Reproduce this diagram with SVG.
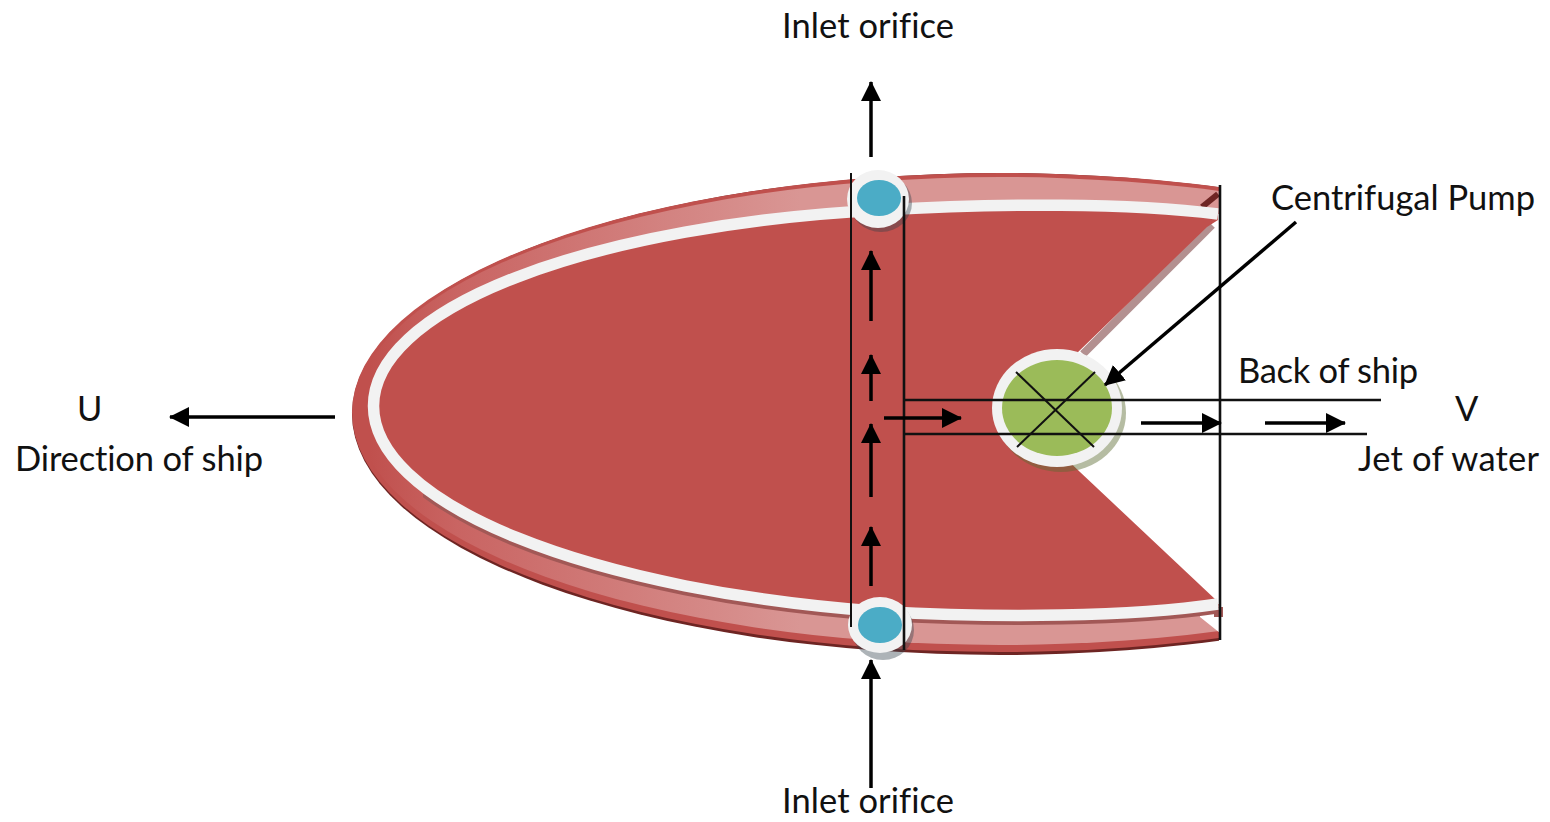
<svg xmlns="http://www.w3.org/2000/svg" width="1550" height="822" viewBox="0 0 1550 822">
<style>
text{font-family:Lato,"Liberation Sans",sans-serif;font-size:34.500px;fill:#111;font-variant-ligatures:none}
.thin{fill:none;stroke:#111;stroke-width:2}
.rule{fill:none;stroke:#111;stroke-width:2.600}
.arr{fill:none;stroke:#000;stroke-width:3.500;marker-end:url(#head)}
.halo{fill:#f2f2f2}
.shade{fill:#33404a;opacity:.4}
.hub{fill:#4bacc6}
</style>
<defs>
<marker id="head" markerUnits="userSpaceOnUse" markerWidth="20" markerHeight="20" viewBox="0 0 20 20" refX="19" refY="10" orient="auto"><path d="M0 0L20 10L0 20Z" fill="#000"/></marker>
<linearGradient id="band" gradientUnits="userSpaceOnUse" x1="370" y1="0" x2="800" y2="0"><stop offset="0" stop-color="#c0504d"/><stop offset=".2" stop-color="#c96462"/><stop offset="1" stop-color="#d99694"/></linearGradient>
<clipPath id="hullClip"><rect x="340" y="150" width="879" height="520"/></clipPath>
<clipPath id="lowClip"><rect x="423" y="480" width="800" height="170"/></clipPath>
<clipPath id="bodyClip"><path d="M340 150H1218V220L1207 227L1075 355L1056 410L1060 453L1080 472L1216 600V680H340Z"/></clipPath>
<path id="ring" d="M1218 214C1130 203 1000 203 880 210A626 204.500 .6 0 0 880 611.500C1000 618 1130 617 1218 604"/>
</defs>
<g id="hull">
<g clip-path="url(#hullClip)">
<ellipse cx="1000" cy="414" rx="648" ry="241" fill="#6e2523"/>
<ellipse cx="1000" cy="412.500" rx="648" ry="239.500" fill="#c0504d"/>
<ellipse cx="1000" cy="411" rx="644" ry="234" fill="url(#band)"/>
</g>
<path d="M1200 617L1220 633V643H1224V610H1200Z" fill="#fff"/>
<path d="M1218 214C1130 203 1000 203 880 210A626 204.500 .6 0 0 880 611.500C1000 618 1130 617 1218 604H1224V214Z" fill="#fff"/>
<path d="M1202 207L1218 194" stroke="#6e2523" stroke-width="6" fill="none"/>
<path d="M1212 225L1083 354" stroke="#b39090" stroke-width="8" fill="none"/>
<use href="#ring" transform="translate(0 4)" fill="none" stroke="#a25856" stroke-width="11" clip-path="url(#lowClip)"/>
<path d="M1214 612H1223" stroke="#a25856" stroke-width="10" fill="none"/>
<use href="#ring" fill="#c0504d" stroke="none" clip-path="url(#bodyClip)"/>
<use href="#ring" fill="none" stroke="#f2f2f2" stroke-width="11.500"/>
</g>
<g id="inlet-top">
<ellipse class="shade" cx="881" cy="203" rx="31" ry="29"/>
<ellipse class="halo" cx="878" cy="199" rx="31" ry="29"/>
<ellipse class="hub" cx="879" cy="198" rx="22" ry="18"/>
</g>
<g id="inlet-bottom">
<ellipse class="shade" cx="883" cy="630" rx="31" ry="30"/>
<ellipse class="halo" cx="880" cy="625" rx="32" ry="28"/>
<ellipse class="hub" cx="880" cy="625" rx="22" ry="18"/>
</g>
<g id="pump">
<ellipse cx="1061" cy="413" rx="65" ry="59" fill="#5c6b30" opacity=".45"/>
<ellipse class="halo" cx="1057" cy="408" rx="65" ry="59"/>
<ellipse cx="1057" cy="408" rx="55" ry="48" fill="#9bbb59"/>
</g>
<g id="connectors">
<path class="thin" d="M851 173V627"/>
<path class="rule" d="M904 196V650"/>
<path class="rule" d="M1220 185V640"/>
<path class="rule" d="M903 400H1381"/>
<path class="rule" d="M905 434H1367"/>
<path class="thin" d="M1016 372L1094 447"/>
<path class="thin" d="M1095 372L1017 447"/>
<path class="arr" d="M871 157V82"/>
<path class="arr" d="M871 321V251"/>
<path class="arr" d="M871 401V355"/>
<path class="arr" d="M871 497V424"/>
<path class="arr" d="M871 586V527"/>
<path class="arr" d="M871 788V660"/>
<path class="arr" d="M884 418H961"/>
<path class="arr" d="M1141 423H1221"/>
<path class="arr" d="M1265 423H1345"/>
<path class="arr" d="M335 417H170"/>
<path class="arr" d="M1296 222L1105 385"/>
</g>
<g id="labels">
<text x="782" y="38" textLength="172">Inlet orifice</text>
<text x="782" y="813" textLength="172">Inlet orifice</text>
<text x="77" y="421">U</text>
<text x="15" y="471" textLength="248">Direction of ship</text>
<text x="1271" y="210" textLength="264">Centrifugal Pump</text>
<text x="1238" y="383" textLength="180">Back of ship</text>
<text x="1455" y="421">V</text>
<text x="1358" y="471" textLength="181">Jet of water</text>
</g>
</svg>
